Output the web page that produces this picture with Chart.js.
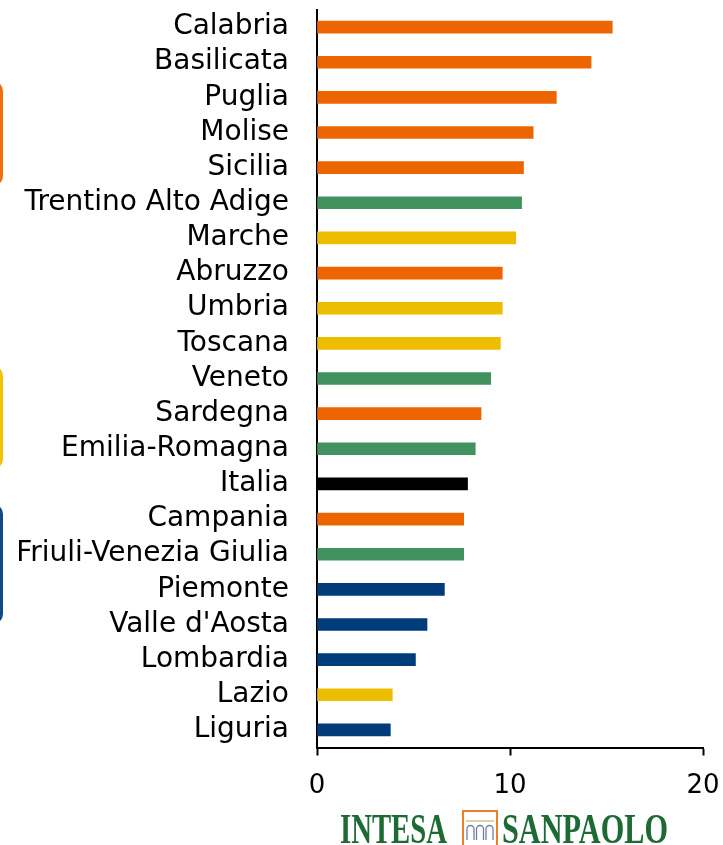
<!DOCTYPE html>
<html><head><meta charset="utf-8">
<script src="https://cdn.jsdelivr.net/npm/chart.js@4/dist/chart.umd.min.js"></script>
<style>html,body{margin:0;padding:0;background:#fff;}#wrap{width:723px;height:845px;position:relative;}</style>
</head><body><div id="wrap"><canvas id="c" width="723" height="845"></canvas></div>
<script>
const regions = ["Calabria","Basilicata","Puglia","Molise","Sicilia","Trentino Alto Adige","Marche","Abruzzo","Umbria","Toscana","Veneto","Sardegna","Emilia-Romagna","Italia","Campania","Friuli-Venezia Giulia","Piemonte","Valle d'Aosta","Lombardia","Lazio","Liguria"];
const values = [15.3,14.2,12.4,11.2,10.7,10.6,10.3,9.6,9.6,9.5,9.0,8.5,8.2,7.8,7.6,7.6,6.6,5.7,5.1,3.9,3.8];
const areas = ["Sud","Sud","Sud","Sud","Sud","Nord-Est","Centro","Sud","Centro","Centro","Nord-Est","Sud","Nord-Est","Italia","Sud","Nord-Est","Nord-Ovest","Nord-Ovest","Nord-Ovest","Centro","Nord-Ovest"];
const xTicks = [0,10,20];

const areaColors = {"Sud":"#EC6500","Nord-Est":"#41925E","Centro":"#EDBE00","Nord-Ovest":"#003B7A","Italia":"#000000"};

const decor = {
  id:'decor',
  afterDraw(chart){
    const ctx = chart.ctx;
    ctx.save();
    const br = [["#F07010",82,185],["#F3C200",367,468],["#0E4A8A",505,623]];
    br.forEach(([c,y0,y1])=>{
      ctx.strokeStyle=c; ctx.lineWidth=3;
      ctx.beginPath();
      ctx.roundRect(-40,y0,41.5,y1-y0,9);
      ctx.stroke();
    });
    ctx.fillStyle="#1D6A35";
    ctx.font="bold 42px 'Liberation Serif'";
    ctx.textBaseline="alphabetic";
    const drawFit=(t,x0,x1,base)=>{
      const w=ctx.measureText(t).width;
      ctx.save(); ctx.translate(x0,base); ctx.scale((x1-x0)/w,1); ctx.fillText(t,0,0); ctx.restore();
    };
    drawFit("INTESA",340,447,843);
    drawFit("SANPAOLO",502,668,843);
    ctx.strokeStyle="#E8812A"; ctx.lineWidth=2;
    ctx.strokeRect(463,811,34,36);
    ctx.strokeStyle="#C9B06A"; ctx.lineWidth=1.2;
    ctx.beginPath(); ctx.moveTo(466,821); ctx.lineTo(494,821); ctx.stroke();
    ctx.strokeStyle="#6E7FA8"; ctx.lineWidth=1.3;
    for(let i=0;i<3;i++){
      const cx=470.5+i*9.5;
      ctx.beginPath(); ctx.moveTo(cx-3.5,840); ctx.lineTo(cx-3.5,829); ctx.arc(cx,829,3.5,Math.PI,0); ctx.lineTo(cx+3.5,840); ctx.stroke();
    }
    ctx.restore();
  }
};

new Chart(document.getElementById('c'), {
  type:'bar',
  data:{
    labels: regions,
    datasets:[{
      data: values,
      backgroundColor: areas.map(a=>areaColors[a]),
      barThickness: 12,
      borderWidth: 0
    }]
  },
  options:{
    indexAxis:'y',
    responsive:false,
    animation:false,
    devicePixelRatio:1,
    layout:{padding:{top:9.5,right:20,bottom:40,left:0}},
    plugins:{legend:{display:false},tooltip:{enabled:false},title:{display:false}},
    scales:{
      x:{
        min:0,max:20,
        afterBuildTicks(s){ s.ticks = xTicks.map(v=>({value:v})); },
        afterFit(s){ s.height = 845-747.5-40; s.paddingLeft=0; s.paddingRight=0; s.paddingTop=0; s.paddingBottom=0; },
        border:{display:true,color:'#000',width:2},
        grid:{display:true,drawOnChartArea:false,drawTicks:true,tickLength:8,tickColor:'#000',tickWidth:2},
        ticks:{color:'#000',font:{family:"'DejaVu Sans'",size:26},padding:15,maxRotation:0,autoSkip:false}
      },
      y:{
        afterFit(s){ s.width = 317; s.paddingLeft=0; s.paddingRight=0; s.paddingTop=0; s.paddingBottom=0; },
        border:{display:true,color:'#000',width:2},
        grid:{display:false,drawTicks:false},
        ticks:{color:'#000',font:{family:"'DejaVu Sans'",size:28},padding:28,autoSkip:false}
      }
    }
  },
  plugins:[decor]
});
</script>
</body></html>
